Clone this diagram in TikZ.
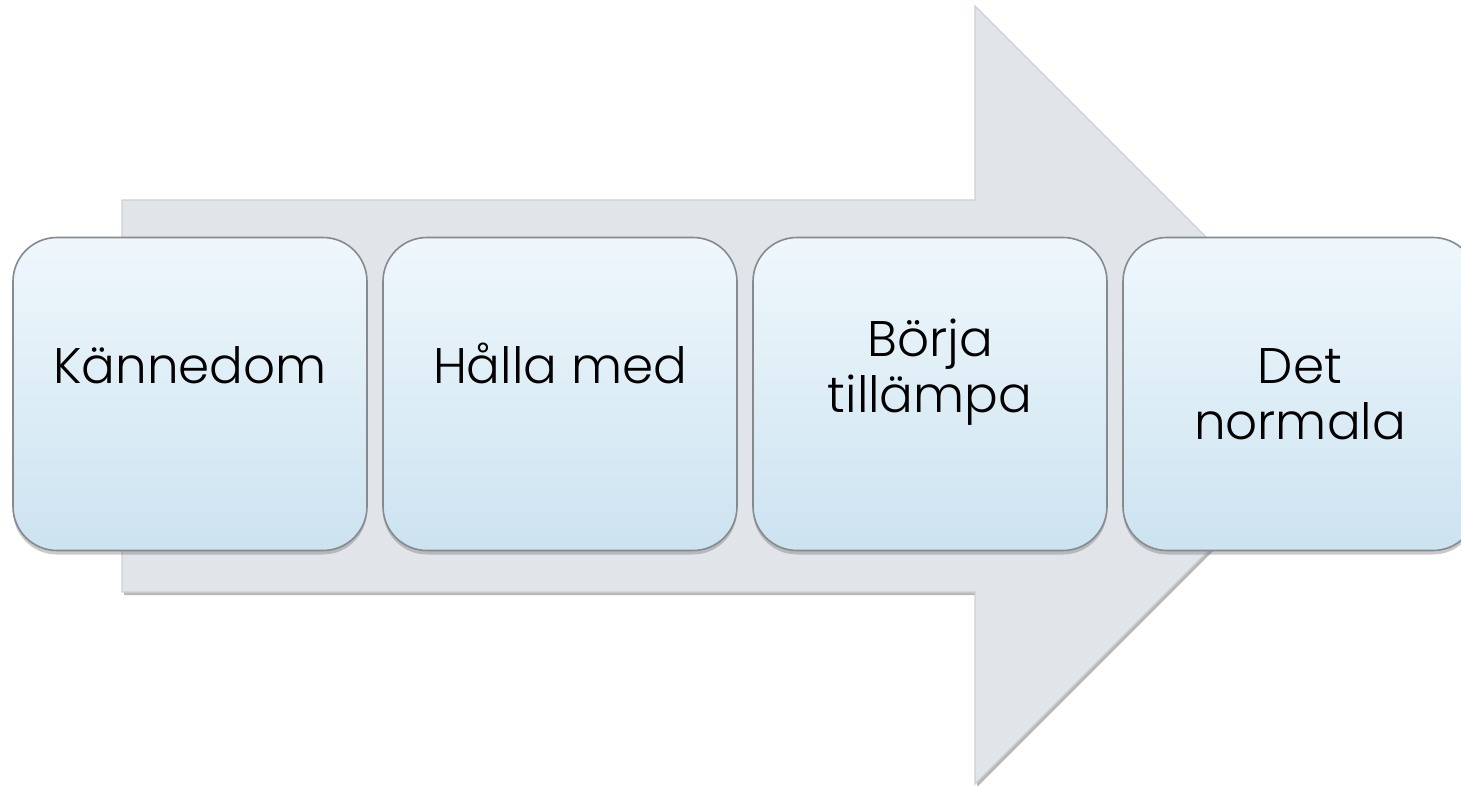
\documentclass[tikz,border=0pt]{standalone}
\usepackage{fontspec}
\setmainfont{Poppins}[UprightFont=* Light]
\usetikzlibrary{shadows}
\definecolor{arrowfill}{HTML}{E1E5EA}
\definecolor{arrowline}{HTML}{CDD1D5}
\definecolor{boxtop}{HTML}{EFF7FC}
\definecolor{boxbot}{HTML}{CCE3F0}
\definecolor{boxline}{HTML}{858A8E}
\tikzset{
  stagebox/.style={rounded corners=22pt, minimum width=177pt, minimum height=156.5pt,
    draw=boxline, line width=0.8pt, top color=boxtop, bottom color=boxbot,
    drop shadow={shadow xshift=0pt, shadow yshift=-2pt, opacity=0.35, fill=black!60}},
  stagetext/.style={font=\fontsize{25}{28}\selectfont, align=center, anchor=base, text=black, inner sep=0pt},
}
\begin{document}
\begin{tikzpicture}[x=0.5pt, y=-0.5pt]
\useasboundingbox (0,0) rectangle (1461,786);
\fill[white] (0,0) rectangle (1461,786);
% big arrow
\filldraw[fill=arrowfill, draw=arrowline, line width=0.6pt,
  drop shadow={shadow xshift=1pt, shadow yshift=-1.5pt, opacity=0.5, fill=black!55}]
  (122,200) -- (975,200) -- (975,6) -- (1364,395) -- (975,784) -- (975,592) -- (122,592) -- cycle;
% boxes
\node[stagebox] (b1) at (190,394) {};
\node[stagebox] (b2) at (560,394) {};
\node[stagebox] (b3) at (930,394) {};
\node[stagebox] (b4) at (1300,394) {};
% texts
\node[stagetext] (t1) at (190,383) {Kännedom};
\node[stagetext] (t2) at (560,383) {Hålla med};
\node[stagetext] (t3) at (930,412) {Börja\\tillämpa};
\node[stagetext] (t4) at (1300,439) {Det\\normala};
\end{tikzpicture}
\end{document}
